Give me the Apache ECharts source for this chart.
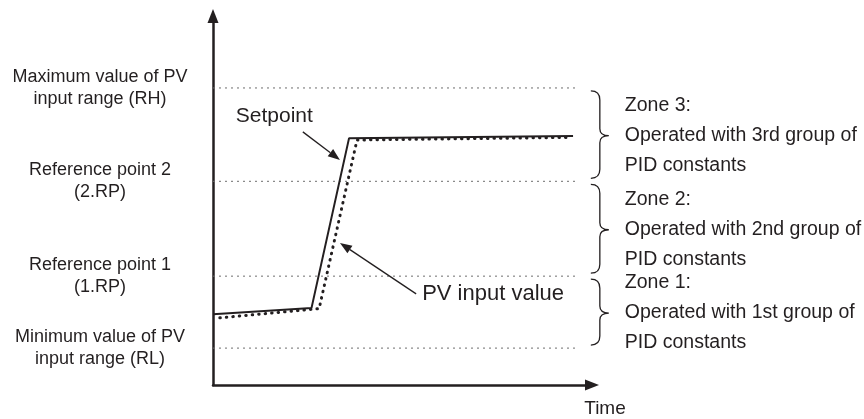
<!DOCTYPE html>
<html>
<head>
<meta charset="utf-8">
<script src="https://cdn.jsdelivr.net/npm/echarts@6/dist/echarts.min.js"></script>
<style>
  html, body { margin: 0; padding: 0; background: #ffffff; }
  #chart { width: 864px; height: 419px; }
</style>
</head>
<body>
<div id="chart"></div>
<script>
// Reference levels on the PV axis, bottom to top: RL, 1.RP, 2.RP, RH
const levelValues = [10.0, 29.5, 55.2, 80.5];
const levelLabels = [
  'Minimum value of PV\ninput range (RL)',
  'Reference point 1\n(1.RP)',
  'Reference point 2\n(2.RP)',
  'Maximum value of PV\ninput range (RH)'
];

// Setpoint profile over time
const setpointTime  = [0, 26.0, 35.9, 95.0];
const setpointValue = [19.2, 20.9, 66.9, 67.5];

// PV input value following the setpoint
const pvTime  = [1.8, 28.0, 38.0, 94.2];
const pvValue = [18.2, 20.7, 66.4, 67.1];

// Zones between consecutive reference levels, bottom to top
const zoneNames = ['Zone 1:', 'Zone 2:', 'Zone 3:'];
const zoneTexts = [
  'Operated with 1st group of\nPID constants',
  'Operated with 2nd group of\nPID constants',
  'Operated with 3rd group of\nPID constants'
];

// Callout arrows: label, tail point and head point (time, value)
const calloutLabels = ['Setpoint', 'PV input value'];
const calloutFrom = [[23.7, 68.6], [53.6, 24.7]];
const calloutTo   = [[33.5, 61.0], [33.5, 38.5]];

const timeAxisName = 'Time';
const guideEnd = 96;

const INK = '#231f20';
const FONT = '"Liberation Sans", Arial, Helvetica, sans-serif';

const chart = echarts.init(document.getElementById('chart'), null, { renderer: 'canvas' });

const axisLineStyle = {
  show: true,
  onZero: false,
  symbol: ['none', 'triangle'],
  symbolSize: [11, 14],
  lineStyle: { color: INK, width: 2.5 }
};

const option = {
  animation: false,
  backgroundColor: '#ffffff',
  grid: { left: 213, top: 16, right: 272, bottom: 34, containLabel: false, outerBoundsMode: 'none' },
  xAxis: {
    type: 'value',
    min: 0,
    max: 100,
    axisLine: axisLineStyle,
    axisTick: { show: false },
    axisLabel: { show: false },
    splitLine: { show: false },
    name: timeAxisName,
    nameLocation: 'end',
    nameGap: 13,
    nameTextStyle: {
      color: INK, fontFamily: FONT, fontSize: 19,
      align: 'center', verticalAlign: 'top', padding: [14, 0, 0, 0]
    }
  },
  yAxis: {
    type: 'value',
    min: 0,
    max: 100,
    axisLine: axisLineStyle,
    axisTick: { show: false },
    splitLine: { show: false },
    axisLabel: {
      customValues: levelValues,
      formatter: function (v) {
        const i = levelValues.indexOf(v);
        return i >= 0 ? levelLabels[i] : '';
      },
      align: 'center',
      margin: 113,
      color: INK,
      fontFamily: FONT,
      fontSize: 18,
      lineHeight: 22
    }
  },
  series: [
    {
      // dotted guide lines at each reference level
      type: 'custom',
      coordinateSystem: 'cartesian2d',
      clip: false,
      silent: true,
      data: levelValues.map(v => [0, v]),
      renderItem: function (params, api) {
        const a = api.coord([0, api.value(1)]);
        const b = api.coord([guideEnd, api.value(1)]);
        return {
          type: 'line',
          shape: { x1: a[0], y1: a[1], x2: b[0], y2: b[1] },
          style: { stroke: '#6d6d6d', lineWidth: 1, lineDash: [2, 4] }
        };
      },
      z: 1
    },
    {
      name: 'PV input value',
      type: 'line',
      data: pvTime.map((t, i) => [t, pvValue[i]]),
      showSymbol: false,
      lineStyle: { color: INK, width: 3, type: [0.5, 6], cap: 'round' },
      z: 2
    },
    {
      name: 'Setpoint',
      type: 'line',
      data: setpointTime.map((t, i) => [t, setpointValue[i]]),
      showSymbol: false,
      lineStyle: { color: INK, width: 2 },
      z: 3
    },
    {
      // braces and descriptions for each zone
      type: 'custom',
      coordinateSystem: 'cartesian2d',
      clip: false,
      silent: true,
      data: zoneNames.map((n, i) => [levelValues[i], levelValues[i + 1]]),
      renderItem: function (params, api) {
        const i = params.dataIndex;
        const lo = api.coord([guideEnd, api.value(0)]);
        const hi = api.coord([guideEnd, api.value(1)]);
        const x0 = lo[0];
        const yTop = hi[1] + 3, yBot = lo[1] - 3, yMid = (hi[1] + lo[1]) / 2 + 1;
        const xc = x0 + 14, xs = x0 + 23, xt = x0 + 32;
        const d = 'M' + xc + ' ' + yTop +
          ' Q' + xs + ' ' + yTop + ' ' + xs + ' ' + (yTop + 9) +
          ' L' + xs + ' ' + (yMid - 7) +
          ' Q' + xs + ' ' + yMid + ' ' + xt + ' ' + yMid +
          ' Q' + xs + ' ' + yMid + ' ' + xs + ' ' + (yMid + 7) +
          ' L' + xs + ' ' + (yBot - 9) +
          ' Q' + xs + ' ' + yBot + ' ' + xc + ' ' + yBot;
        return {
          type: 'group',
          children: [
            { type: 'path', shape: { pathData: d }, style: { fill: 'none', stroke: INK, lineWidth: 1.3 } },
            {
              type: 'text', x: x0 + 48, y: yMid,
              style: {
                text: zoneNames[i] + '\n' + zoneTexts[i],
                fill: INK, fontFamily: FONT, fontSize: 19.5, lineHeight: 30,
                align: 'left', verticalAlign: 'middle'
              }
            }
          ]
        };
      },
      z: 4
    },
    {
      // callout arrows naming the two curves
      type: 'custom',
      coordinateSystem: 'cartesian2d',
      clip: false,
      silent: true,
      data: calloutFrom.map((f, i) => [f[0], f[1], calloutTo[i][0], calloutTo[i][1]]),
      renderItem: function (params, api) {
        const i = params.dataIndex;
        const a = api.coord([api.value(0), api.value(1)]);
        const b = api.coord([api.value(2), api.value(3)]);
        const dx = b[0] - a[0], dy = b[1] - a[1];
        const len = Math.hypot(dx, dy), ux = dx / len, uy = dy / len;
        const headLen = 12, headHalf = 4.5;
        const bx = b[0] - ux * headLen, by = b[1] - uy * headLen;
        const head = [
          [b[0], b[1]],
          [bx - uy * headHalf, by + ux * headHalf],
          [bx + uy * headHalf, by - ux * headHalf]
        ];
        const labelOffsets = [[-67, -16], [6, 0.5]];
        const labelSizes = [21, 22];
        return {
          type: 'group',
          children: [
            { type: 'line', shape: { x1: a[0], y1: a[1], x2: bx, y2: by }, style: { stroke: INK, lineWidth: 1.3 } },
            { type: 'polygon', shape: { points: head }, style: { fill: INK } },
            {
              type: 'text', x: a[0] + labelOffsets[i][0], y: a[1] + labelOffsets[i][1],
              style: {
                text: calloutLabels[i], fill: INK, fontFamily: FONT, fontSize: labelSizes[i],
                align: 'left', verticalAlign: 'middle'
              }
            }
          ]
        };
      },
      z: 5
    }
  ]
};

chart.setOption(option);
</script>
</body>
</html>
